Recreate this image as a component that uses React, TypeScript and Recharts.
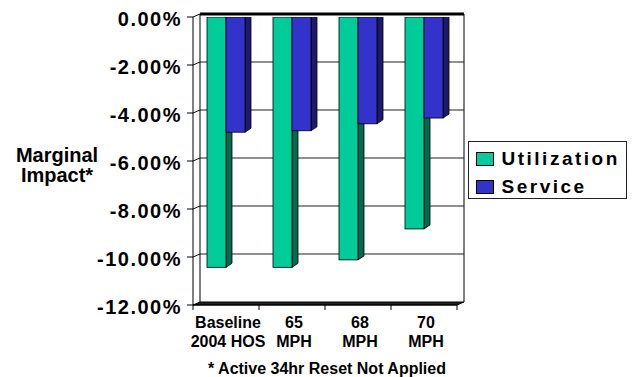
import { Bar, BarChart, CartesianGrid, Label, XAxis, YAxis } from 'recharts'

const categories = ['Baseline\n2004 HOS', '65\nMPH', '68\nMPH', '70\nMPH']
const utilization = [-10.43, -10.43, -10.12, -8.83]
const service = [-4.8, -4.74, -4.45, -4.21]
const yTicks = [0, -2, -4, -6, -8, -10, -12]

const SERIES = [
  { key: 'utilization', name: 'Utilization', front: '#00CC99', side: '#006B50' },
  { key: 'service', name: 'Service', front: '#3333CC', side: '#1B1B6E' },
]

const data = categories.map((c, i) => ({
  name: c,
  utilization: utilization[i],
  service: service[i],
}))

const FONT = 'Arial, "Liberation Sans", sans-serif'
// depth of the bars and of the back wall (fake excel 3d)
const DX = 6
const DY = 4
const WX = 7
const WY = 3

function bar3d(front: string, side: string) {
  return (props: any) => {
    const { x, y, width, height } = props
    const top = Math.min(y, y + height)
    const h = Math.abs(height)
    const r = x + width
    return (
      <g>
        <polygon
          points={`${r},${top} ${r + DX},${top - DY} ${r + DX},${top + h - DY} ${r},${top + h}`}
          fill={side}
          stroke="#000"
          strokeWidth={0.8}
        />
        <polygon
          points={`${x},${top} ${x + DX},${top - DY} ${r + DX},${top - DY} ${r},${top}`}
          fill="#111"
          stroke="#000"
          strokeWidth={0.8}
        />
        <rect x={x} y={top} width={width} height={h} fill={front} stroke="#000" strokeWidth={0.8} />
      </g>
    )
  }
}

const gridLine = (p: any) => {
  const { x1, x2, y1, index } = p
  const top = p.y ?? 17
  const bottom = top + (p.height ?? 288)
  if (Math.abs(y1 - bottom) < 0.5 || index === yTicks.length - 1) {
    return (
      <g key={`g${index}`}>
        <line x1={x1 + WX} y1={top - WY} x2={x1 + WX} y2={y1 - WY} stroke="#000" />
        <line x1={x2 + WX} y1={top - WY} x2={x2 + WX} y2={y1 - WY} stroke="#000" />
        <polygon
          points={`${x1},${y1} ${x1 + WX},${y1 - WY} ${x2 + WX},${y1 - WY} ${x2},${y1}`}
          fill="#222"
          stroke="#000"
        />
      </g>
    )
  }
  const isTop = Math.abs(y1 - top) < 0.5
  return (
    <g key={`g${index}`}>
      <line x1={x1} y1={y1} x2={x1 + WX} y2={y1 - WY} stroke="#000" />
      <line
        x1={x1 + WX}
        y1={y1 - WY}
        x2={x2 + WX}
        y2={y1 - WY}
        stroke={isTop ? '#000' : '#222'}
        strokeWidth={isTop ? 3 : 1}
      />
    </g>
  )
}

const ValueTick = (p: any) => {
  const { x, y, payload } = p
  return (
    <text
      x={x}
      y={y}
      dy={9}
      textAnchor="end"
      fontFamily={FONT}
      fontWeight="bold"
      fontSize={20}
      letterSpacing={1.5}
      fill="#000"
    >
      {`${Number(payload.value).toFixed(2)}%`}
    </text>
  )
}

const CategoryTick = (p: any) => {
  const { x, y, payload, index } = p
  const half = payload.offset || 33
  const [l1, l2] = String(payload.value).split('\n')
  const cx = x + 2
  return (
    <g>
      <line x1={x - half} y1={y} x2={x - half} y2={y + 5} stroke="#000" />
      {index === categories.length - 1 && (
        <line x1={x + half} y1={y} x2={x + half} y2={y + 5} stroke="#000" />
      )}
      <text textAnchor="middle" fontFamily={FONT} fontWeight="bold" fontSize={16} fill="#000">
        <tspan x={cx} y={y + 23}>{l1}</tspan>
        <tspan x={cx} y={y + 42}>{l2}</tspan>
      </text>
    </g>
  )
}

const AxisTitle = (p: any) => {
  const vb = p.viewBox || { y: 17, height: 288 }
  const cy = vb.y + vb.height / 2
  return (
    <text textAnchor="middle" fontFamily={FONT} fontWeight="bold" fontSize={20} fill="#000">
      <tspan x={57} y={cy + 1}>Marginal</tspan>
      <tspan x={57} y={cy + 21}>Impact*</tspan>
    </text>
  )
}

export default function App() {
  return (
    <div style={{ position: 'absolute', left: 0, top: 0, width: 635, height: 377, background: '#fff' }}>
      <BarChart
        width={635}
        height={377}
        data={data}
        margin={{ top: 17, right: 178, bottom: 0, left: 0 }}
        barSize={19}
        barGap={0}
      >
        <CartesianGrid horizontal={gridLine} vertical={false} />
        <XAxis
          dataKey="name"
          height={72}
          tick={<CategoryTick />}
          tickLine={false}
          tickSize={0}
          tickMargin={0}
          axisLine={{ stroke: '#000' }}
          interval={0}
        />
        <YAxis
          width={193}
          domain={[-12, 0]}
          ticks={yTicks}
          tick={<ValueTick />}
          tickLine={{ stroke: '#000' }}
          tickSize={6}
          tickMargin={5}
          axisLine={{ stroke: '#000' }}
          allowDataOverflow
        >
          <Label content={<AxisTitle />} />
        </YAxis>
        {SERIES.map((s) => (
          <Bar
            key={s.key}
            dataKey={s.key}
            name={s.name}
            fill={s.front}
            shape={bar3d(s.front, s.side)}
            isAnimationActive={false}
          />
        ))}
      </BarChart>

      <div
        style={{
          position: 'absolute',
          left: 468,
          top: 141,
          width: 159,
          height: 58,
          boxSizing: 'border-box',
          border: '1px solid #222',
          background: '#fff',
          fontFamily: FONT,
          fontWeight: 'bold',
          fontSize: 19,
          lineHeight: '19px',
          letterSpacing: 2.5,
        }}
      >
        {SERIES.map((s, i) => (
          <div key={s.key}>
            <div
              style={{
                position: 'absolute',
                left: 7,
                top: 9.7 + i * 28.3,
                width: 18,
                height: 14,
                boxSizing: 'border-box',
                border: '1px solid #000',
                background: s.front,
              }}
            />
            <div style={{ position: 'absolute', left: 32.5, top: 7 + i * 28.3 }}>{s.name}</div>
          </div>
        ))}
      </div>

      <div
        style={{
          position: 'absolute',
          left: 127,
          top: 360.5,
          width: 400,
          textAlign: 'center',
          fontFamily: FONT,
          fontWeight: 'bold',
          fontSize: 16,
          lineHeight: '16px',
        }}
      >
        * Active 34hr Reset Not Applied
      </div>
    </div>
  )
}
